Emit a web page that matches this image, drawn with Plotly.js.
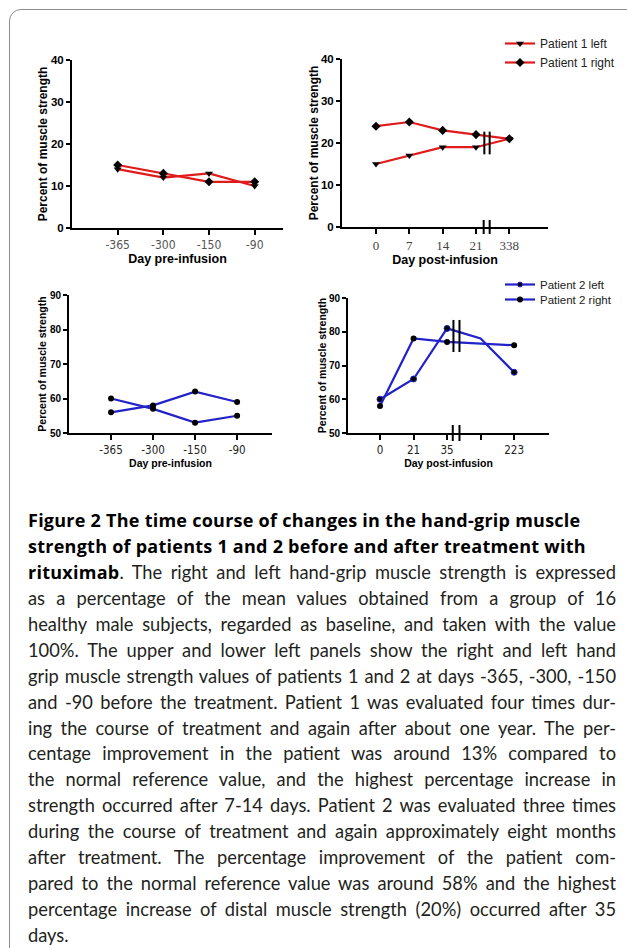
<!DOCTYPE html>
<html>
<head>
<meta charset="utf-8">
<script src="https://cdn.plot.ly/plotly-3.0.1.min.js"></script>
<style>
  html, body { margin: 0; padding: 0; background: #fff; width: 627px; height: 948px; overflow: hidden; }
  #frame { position: absolute; left: 9px; top: 9px; width: 640px; height: 1000px;
           border: 1.5px solid #8c8c8c; border-radius: 12px; box-sizing: border-box; }
  #chart { position: absolute; left: 0; top: 0; width: 627px; height: 480px; }
  #cap { position: absolute; left: 28px; top: 508px; width: 588px;
         font-family: Lato, "Open Sans", sans-serif; font-size: 18.3px; line-height: 25.94px; color: #231f20; }
  #cap .l { white-space: nowrap; text-align: justify; text-align-last: justify; }
  #cap .b { font-family: "Open Sans", "Noto Sans", sans-serif; font-weight: bold; font-size: 18px; letter-spacing: 0.25px; color: #000; text-align: left; text-align-last: left; }
  #cap .rb { font-family: "Open Sans", "Noto Sans", sans-serif; font-weight: bold; font-size: 18px; letter-spacing: 0.25px; color: #000; }
  #cap .last { text-align-last: left; }
</style>
</head>
<body>
<div id="frame"></div>
<div id="chart"></div>
<div id="cap">
  <div class="l b">Figure 2 The time course of changes in the hand-grip muscle</div>
  <div class="l b">strength of patients 1 and 2 before and after treatment with</div>
  <div class="l"><span class="rb">rituximab</span>. The right and left hand-grip muscle strength is expressed</div>
  <div class="l">as a percentage of the mean values obtained from a group of 16</div>
  <div class="l">healthy male subjects, regarded as baseline, and taken with the value</div>
  <div class="l">100%. The upper and lower left panels show the right and left hand</div>
  <div class="l">grip muscle strength values of patients 1 and 2 at days -365, -300, -150</div>
  <div class="l">and -90 before the treatment. Patient 1 was evaluated four times dur-</div>
  <div class="l">ing the course of treatment and again after about one year. The per-</div>
  <div class="l">centage improvement in the patient was around 13% compared to</div>
  <div class="l">the normal reference value, and the highest percentage increase in</div>
  <div class="l">strength occurred after 7-14 days. Patient 2 was evaluated three times</div>
  <div class="l">during the course of treatment and again approximately eight months</div>
  <div class="l">after treatment. The percentage improvement of the patient com-</div>
  <div class="l">pared to the normal reference value was around 58% and the highest</div>
  <div class="l">percentage increase of distal muscle strength (20%) occurred after 35</div>
  <div class="l last">days.</div>
</div>
<script>
// ---------------- data ----------------
const daysPre = ['-365', '-300', '-150', '-90'];
const p1PreLeft = [14, 12, 13, 10];
const p1PreRight = [15, 13, 11, 11];

const daysPost1 = ['0', '7', '14', '21', '338'];
const p1PostLeft = [15, 17, 19, 19, 21];
const p1PostRight = [24, 25, 23, 22, 21];

const p2PreLeft = [56, 58, 62, 59];
const p2PreRight = [60, 57, 53, 55];

const daysPost2 = ['0', '21', '35', 'mid', '223'];
const daysPost2Labels = ['0', '21', '35', '', '223'];
const p2PostLeft = [60, 66, 81, 78, 68];
const p2PostRight = [58, 78, 77, null, 76];

const yTicksTop = [0, 10, 20, 30, 40];
const yTicksBottom = [50, 60, 70, 80, 90];

// ---------------- layout helpers ----------------
const W = 627, H = 480;
const dx = (a, b) => [a / W, b / W];
const dy = (top, bottom) => [1 - bottom / H, 1 - top / H];
const RED = '#e01b1b', BLUE = '#2222c8';
const SANS = 'Liberation Sans, Arial, sans-serif';
const COND = 'DejaVu Sans Condensed, Liberation Sans Narrow, DejaVu Sans, sans-serif';
const SERIF = 'Liberation Serif, Times New Roman, serif';

function trace(x, y, name, color, symbol, xa, ya, legend, show, sizes) {
  return {
    x: x, y: y, name: name, type: 'scatter', mode: 'lines+markers',
    xaxis: xa, yaxis: ya, legend: legend, showlegend: show, connectgaps: true,
    line: { color: color, width: 2.2 },
    marker: { color: '#000', symbol: symbol, size: sizes || 7, opacity: 1 },
    cliponaxis: false
  };
}

const hiddenSizes = daysPost2.map(k => (k === 'mid' ? 0 : 6));

const data = [
  trace(daysPre, p1PreLeft, 'Patient 1 left', RED, 'triangle-down', 'x', 'y', 'legend', false),
  trace(daysPre, p1PreRight, 'Patient 1 right', RED, 'diamond', 'x', 'y', 'legend', false),
  trace(daysPost1, p1PostLeft, 'Patient 1 left', RED, 'triangle-down', 'x2', 'y2', 'legend', true),
  trace(daysPost1, p1PostRight, 'Patient 1 right', RED, 'diamond', 'x2', 'y2', 'legend', true),
  trace(daysPre, p2PreLeft, 'Patient 2 left', BLUE, 'circle', 'x3', 'y3', 'legend2', false, 6),
  trace(daysPre, p2PreRight, 'Patient 2 right', BLUE, 'circle', 'x3', 'y3', 'legend3', false, 6),
  trace(daysPost2, p2PostLeft, 'Patient 2 left', BLUE, 'circle', 'x4', 'y4', 'legend2', true, hiddenSizes),
  trace(daysPost2, p2PostRight, 'Patient 2 right', BLUE, 'circle', 'x4', 'y4', 'legend3', true, 6)
];

function xAxis(domain, anchor, range, tickFont, title, titleSize, standoff, extra) {
  return Object.assign({
    domain: domain, anchor: anchor, type: 'category', range: range,
    showline: true, linewidth: 2, linecolor: '#000', mirror: false,
    ticks: 'outside', ticklen: 5, tickwidth: 2, tickcolor: '#000',
    showgrid: false, zeroline: false, tickfont: tickFont,
    title: { text: title, font: { family: SANS, size: titleSize, color: '#000', weight: 'bold' }, standoff: standoff }
  }, extra || {});
}
function yAxis(domain, anchor, range, tickvals, fontSize, titleSize, standoff) {
  return {
    domain: domain, anchor: anchor, range: range, tickvals: tickvals,
    showline: true, linewidth: 2, linecolor: '#000',
    ticks: 'outside', ticklen: 4, tickwidth: 2, tickcolor: '#000',
    showgrid: false, zeroline: false,
    tickfont: { family: SANS, size: fontSize, color: '#000', weight: 'bold' },
    title: { text: 'Percent of muscle strength', font: { family: SANS, size: titleSize, color: '#000', weight: 'bold' }, standoff: standoff }
  };
}

const legendBase = (top, size) => ({
  x: 500 / W, y: 1 - top / H, xanchor: 'left', yanchor: 'top', bgcolor: 'rgba(0,0,0,0)',
  font: { family: SANS, size: size, color: '#222' }, itemwidth: 30, tracegroupgap: 0
});

const layout = {
  width: W, height: H,
  margin: { l: 0, r: 0, t: 0, b: 0 },
  paper_bgcolor: 'rgba(0,0,0,0)', plot_bgcolor: 'rgba(0,0,0,0)',
  font: { family: SANS, color: '#000' },
  xaxis: xAxis(dx(72, 283), 'y', [-1.0, 3.62], { family: COND, size: 12, color: '#555', stretch: 'condensed' }, 'Day pre-infusion', 12.5, 3),
  yaxis: yAxis(dy(60, 228), 'x', [0, 40], yTicksTop, 11.5, 12, 1),
  xaxis2: xAxis(dx(342, 548), 'y2', [-1.02, 5.16], { family: SERIF, size: 13, color: '#444' }, 'Day post-infusion', 12.5, 3),
  yaxis2: yAxis(dy(59, 227), 'x2', [0, 40], yTicksTop, 11.5, 12, 0),
  xaxis3: xAxis(dx(69, 272), 'y3', [-1.0, 3.83], { family: COND, size: 11.5, color: '#222', stretch: 'condensed' }, 'Day pre-infusion', 10.5, 0),
  yaxis3: yAxis(dy(295, 433), 'x3', [50, 90], yTicksBottom, 10, 10.5, 1),
  xaxis4: xAxis(dx(348, 549), 'y4', [-0.955, 5.04], { family: COND, size: 11.5, color: '#222', stretch: 'condensed' }, 'Day post-infusion', 10.5, 0,
                { tickvals: daysPost2, ticktext: daysPost2Labels }),
  yaxis4: yAxis(dy(298, 433), 'x4', [50, 90], yTicksBottom, 10, 10.5, 0),
  legend: legendBase(29, 12),
  legend2: legendBase(270, 11.5),
  legend3: legendBase(285, 11.5),
  shapes: [
    // top-right axis break
    { type: 'line', xref: 'x2', yref: 'paper', x0: 3.23, x1: 3.23, y0: 1 - 234 / H, y1: 1 - 220 / H, line: { color: '#000', width: 2 } },
    { type: 'line', xref: 'x2', yref: 'paper', x0: 3.41, x1: 3.41, y0: 1 - 234 / H, y1: 1 - 220 / H, line: { color: '#000', width: 2 } },
    { type: 'line', xref: 'x2', yref: 'y2', x0: 3.25, x1: 3.25, y0: 17.3, y1: 22.7, line: { color: '#000', width: 2 } },
    { type: 'line', xref: 'x2', yref: 'y2', x0: 3.41, x1: 3.41, y0: 17.3, y1: 22.7, line: { color: '#000', width: 2 } },
    // bottom-right axis break
    { type: 'line', xref: 'x4', yref: 'paper', x0: 2.17, x1: 2.17, y0: 1 - 441 / H, y1: 1 - 425 / H, line: { color: '#000', width: 2 } },
    { type: 'line', xref: 'x4', yref: 'paper', x0: 2.37, x1: 2.37, y0: 1 - 441 / H, y1: 1 - 425 / H, line: { color: '#000', width: 2 } },
    { type: 'line', xref: 'x4', yref: 'y4', x0: 2.19, x1: 2.19, y0: 74, y1: 83.5, line: { color: '#000', width: 2 } },
    { type: 'line', xref: 'x4', yref: 'y4', x0: 2.37, x1: 2.37, y0: 74, y1: 83.5, line: { color: '#000', width: 2 } }
  ]
};

Plotly.newPlot('chart', data, layout, { displayModeBar: false, responsive: false, staticPlot: true });
</script>
</body>
</html>
